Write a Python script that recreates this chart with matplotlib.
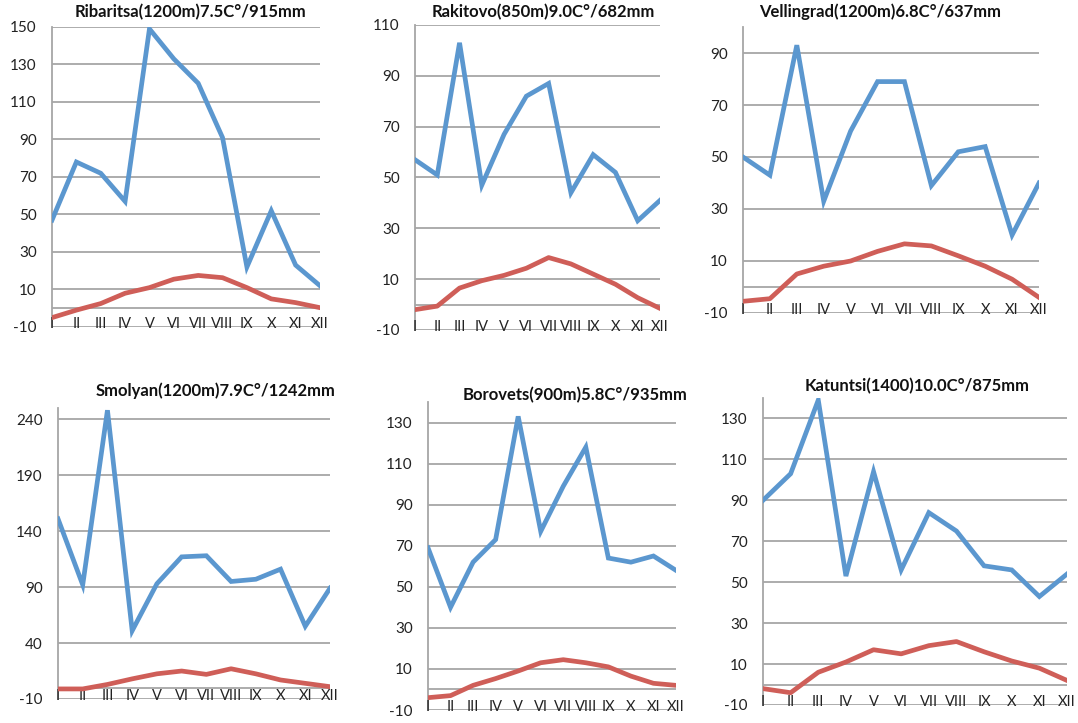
import numpy as np
import matplotlib.pyplot as plt

months = ['I', 'II', 'III', 'IV', 'V', 'VI', 'VII', 'VIII', 'IX', 'X', 'XI', 'XII']

titles = ['Ribaritsa(1200m)7.5C°/915mm', 'Rakitovo(850m)9.0C°/682mm',
          'Vellingrad(1200m)6.8C°/637mm', 'Smolyan(1200m)7.9C°/1242mm',
          'Borovets(900m)5.8C°/935mm', 'Katuntsi(1400)10.0C°/875mm']

# precipitation, mm
rain_ribaritsa = [47, 78, 72, 57, 149, 133, 120, 91, 22, 52, 23, 12]
rain_rakitovo = [57, 51, 103, 47, 67, 82, 87, 44, 59, 52, 33, 41]
rain_vellingrad = [50, 43, 93, 33, 60, 79, 79, 39, 52, 54, 20, 40]
rain_smolyan = [151, 92, 248, 51, 93, 117, 118, 95, 97, 106, 55, 89]
rain_borovets = [69, 40, 62, 73, 133, 77, 99, 118, 64, 62, 65, 58]
rain_katuntsi = [90, 103, 139, 53, 104, 56, 84, 75, 58, 56, 43, 54]

# temperature, C
temp_ribaritsa = [-5, -1, 2.5, 8, 11, 15.5, 17.5, 16.3, 11, 5, 3, 0.3]
temp_rakitovo = [-2, -0.6, 6.5, 9.4, 11.5, 14.3, 18.5, 16, 12, 8, 2.7, -1.5]
temp_vellingrad = [-5.5, -4.5, 5, 8, 10, 13.7, 16.6, 15.8, 12, 8, 3, -4]
temp_smolyan = [-1, -1, 3, 8, 12.5, 15, 12, 17, 12.5, 7, 4, 1]
temp_borovets = [-4, -3, 2, 5.3, 9, 13, 14.5, 13, 11, 6.5, 3, 2]
temp_katuntsi = [-2, -4, 6, 11, 17, 15, 19, 21, 16, 11.5, 8, 2]

rains = [rain_ribaritsa, rain_rakitovo, rain_vellingrad,
         rain_smolyan, rain_borovets, rain_katuntsi]
temps = [temp_ribaritsa, temp_rakitovo, temp_vellingrad,
         temp_smolyan, temp_borovets, temp_katuntsi]
ytops = [150, 110, 100, 250, 140, 140]
ysteps = [20, 20, 20, 50, 20, 20]

# axes boxes in pixels: x0, x1, ytop, ybottom ; title centre x, y
boxes = [(52, 320, 27, 327), (415, 660, 25, 330), (743, 1039, 27, 313),
         (58, 330, 408, 699), (428, 676, 402, 710), (763, 1067, 398, 705)]
title_pos = [(191, 12), (543, 12), (880, 12), (216, 391), (575, 395), (917, 386)]

W, H = 1078, 723
blue = '#5B97CF'
red = '#CF5E58'
grid = '#A6A6A6'

plt.rcParams['font.family'] = ['Lato', 'DejaVu Sans']
fig = plt.figure(figsize=(W / 100, H / 100), dpi=100)

x = np.arange(len(months))
for i in range(6):
    x0, x1, yt, yb = boxes[i]
    ax = fig.add_axes([x0 / W, 1 - yb / H, (x1 - x0) / W, (yb - yt) / H])
    ticks = np.arange(-10, ytops[i] + 0.1, ysteps[i])
    for t in ticks:
        ax.axhline(t, color=grid, lw=1.3, zorder=0)
    ax.axhline(0, color=grid, lw=1.3, zorder=0)
    ax.axvline(0, color=grid, lw=1.3, zorder=0, clip_on=False)
    ax.plot(x, rains[i], color=blue, lw=3.4, solid_joinstyle='miter', zorder=3)
    ax.plot(x, temps[i], color=red, lw=3.4, solid_joinstyle='round', zorder=3)
    ax.set_xlim(0, 11)
    ax.set_ylim(-10, ytops[i])
    ax.set_yticks(ticks)
    ax.set_yticklabels([str(int(t)) for t in ticks])
    ax.set_xticks(x)
    ax.set_xticklabels(months)
    ax.tick_params(axis='y', length=0, pad=11, labelsize=11, colors='#222222')
    ax.tick_params(axis='x', length=0, pad=-7, labelsize=10.5, colors='#222222')
    for s in ax.spines.values():
        s.set_visible(False)
    ax.set_axisbelow(False)
    ax.patch.set_alpha(0)
    tx, ty = title_pos[i]
    fig.text(tx / W, 1 - ty / H, titles[i], ha='center', va='center',
             fontsize=12, fontweight='bold', color='#111111')

fig.savefig('out.png', dpi=100)
